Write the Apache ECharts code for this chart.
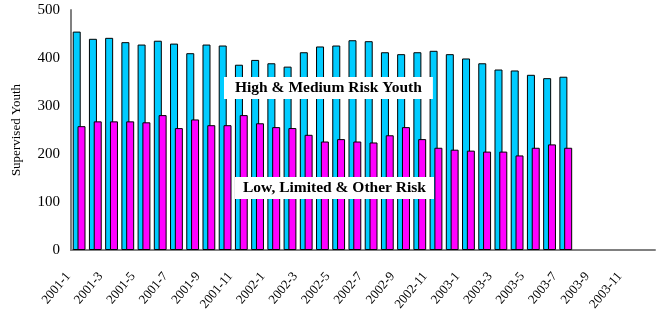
<!DOCTYPE html>
<html>
<head>
<meta charset="utf-8">
<script src="https://cdn.jsdelivr.net/npm/echarts@6/dist/echarts.min.js"></script>
<style>
  html, body { margin: 0; padding: 0; background: #fff; }
  #chart { width: 662px; height: 309px; }
</style>
</head>
<body>
<div id="chart"></div>
<script>
// 月份 2001-1 .. 2003-12
let months = []
for (let y = 2001; y <= 2003; y++) {
  for (let m = 1; m <= 12; m++) {
    months.push(y + '-' + m)
  }
}

// High & Medium Risk Youth
let highMedium = [455, 440, 442, 433, 428, 436, 430, 410, 428, 426,
  386, 396, 389, 382, 412, 424, 426, 437, 435, 412,
  408, 412, 415, 408, 399, 389, 376, 374, 365, 358, 361]

// Low, Limited & Other Risk
let lowLimited = [258, 268, 268, 268, 266, 281, 254, 272, 260, 260,
  281, 264, 256, 254, 240, 226, 231, 226, 224, 239,
  256, 231, 213, 209, 207, 205, 205, 197, 213, 220, 213]

let yTicks = [0, 100, 200, 300, 400, 500]

let serif = '"Liberation Serif", "DejaVu Serif", serif'

let chart = echarts.init(document.getElementById('chart'))

chart.setOption({
  animation: false,
  grid: {
    left: 71,
    right: 7,
    top: 10,
    bottom: 59,
    outerBoundsMode: 'none'
  },
  xAxis: {
    type: 'category',
    data: months,
    boundaryGap: true,
    axisLine: { lineStyle: { color: '#808080', width: 2 } },
    axisTick: { show: false },
    axisLabel: {
      interval: 1,
      rotate: 50,
      margin: 11,
      padding: [0, 17, 0, 0],
      fontFamily: serif,
      fontSize: 13,
      color: '#000'
    }
  },
  yAxis: {
    type: 'value',
    min: yTicks[0],
    max: yTicks[yTicks.length - 1],
    interval: 100,
    name: 'Supervised Youth',
    nameLocation: 'middle',
    nameGap: 48,
    nameTextStyle: { fontFamily: serif, fontSize: 13, color: '#000' },
    axisLine: { show: true, lineStyle: { color: '#808080', width: 2 } },
    axisTick: { show: false },
    splitLine: { show: false },
    axisLabel: {
      margin: 11,
      fontFamily: serif,
      fontSize: 15,
      color: '#000'
    }
  },
  series: [{
    name: 'High & Medium Risk Youth',
    type: 'bar',
    data: highMedium,
    barWidth: 8,
    barGap: '-40%',
    itemStyle: { color: '#00CCFF', borderColor: '#000', borderWidth: 1 }
  }, {
    name: 'Low, Limited & Other Risk',
    type: 'bar',
    data: lowLimited,
    barWidth: 8,
    itemStyle: { color: '#FF00FF', borderColor: '#000', borderWidth: 1 }
  }],
  graphic: [{
    type: 'text',
    left: 224,
    top: 77,
    z: 100,
    style: {
      text: 'High & Medium Risk Youth',
      font: 'bold 15.5px ' + serif,
      fill: '#000',
      backgroundColor: '#fff',
      padding: [3, 11, 3, 11]
    }
  }, {
    type: 'text',
    left: 235,
    top: 177,
    z: 100,
    style: {
      text: 'Low, Limited & Other Risk',
      font: 'bold 15.5px ' + serif,
      fill: '#000',
      backgroundColor: '#fff',
      padding: [3, 8, 3, 8]
    }
  }]
})
</script>
</body>
</html>
